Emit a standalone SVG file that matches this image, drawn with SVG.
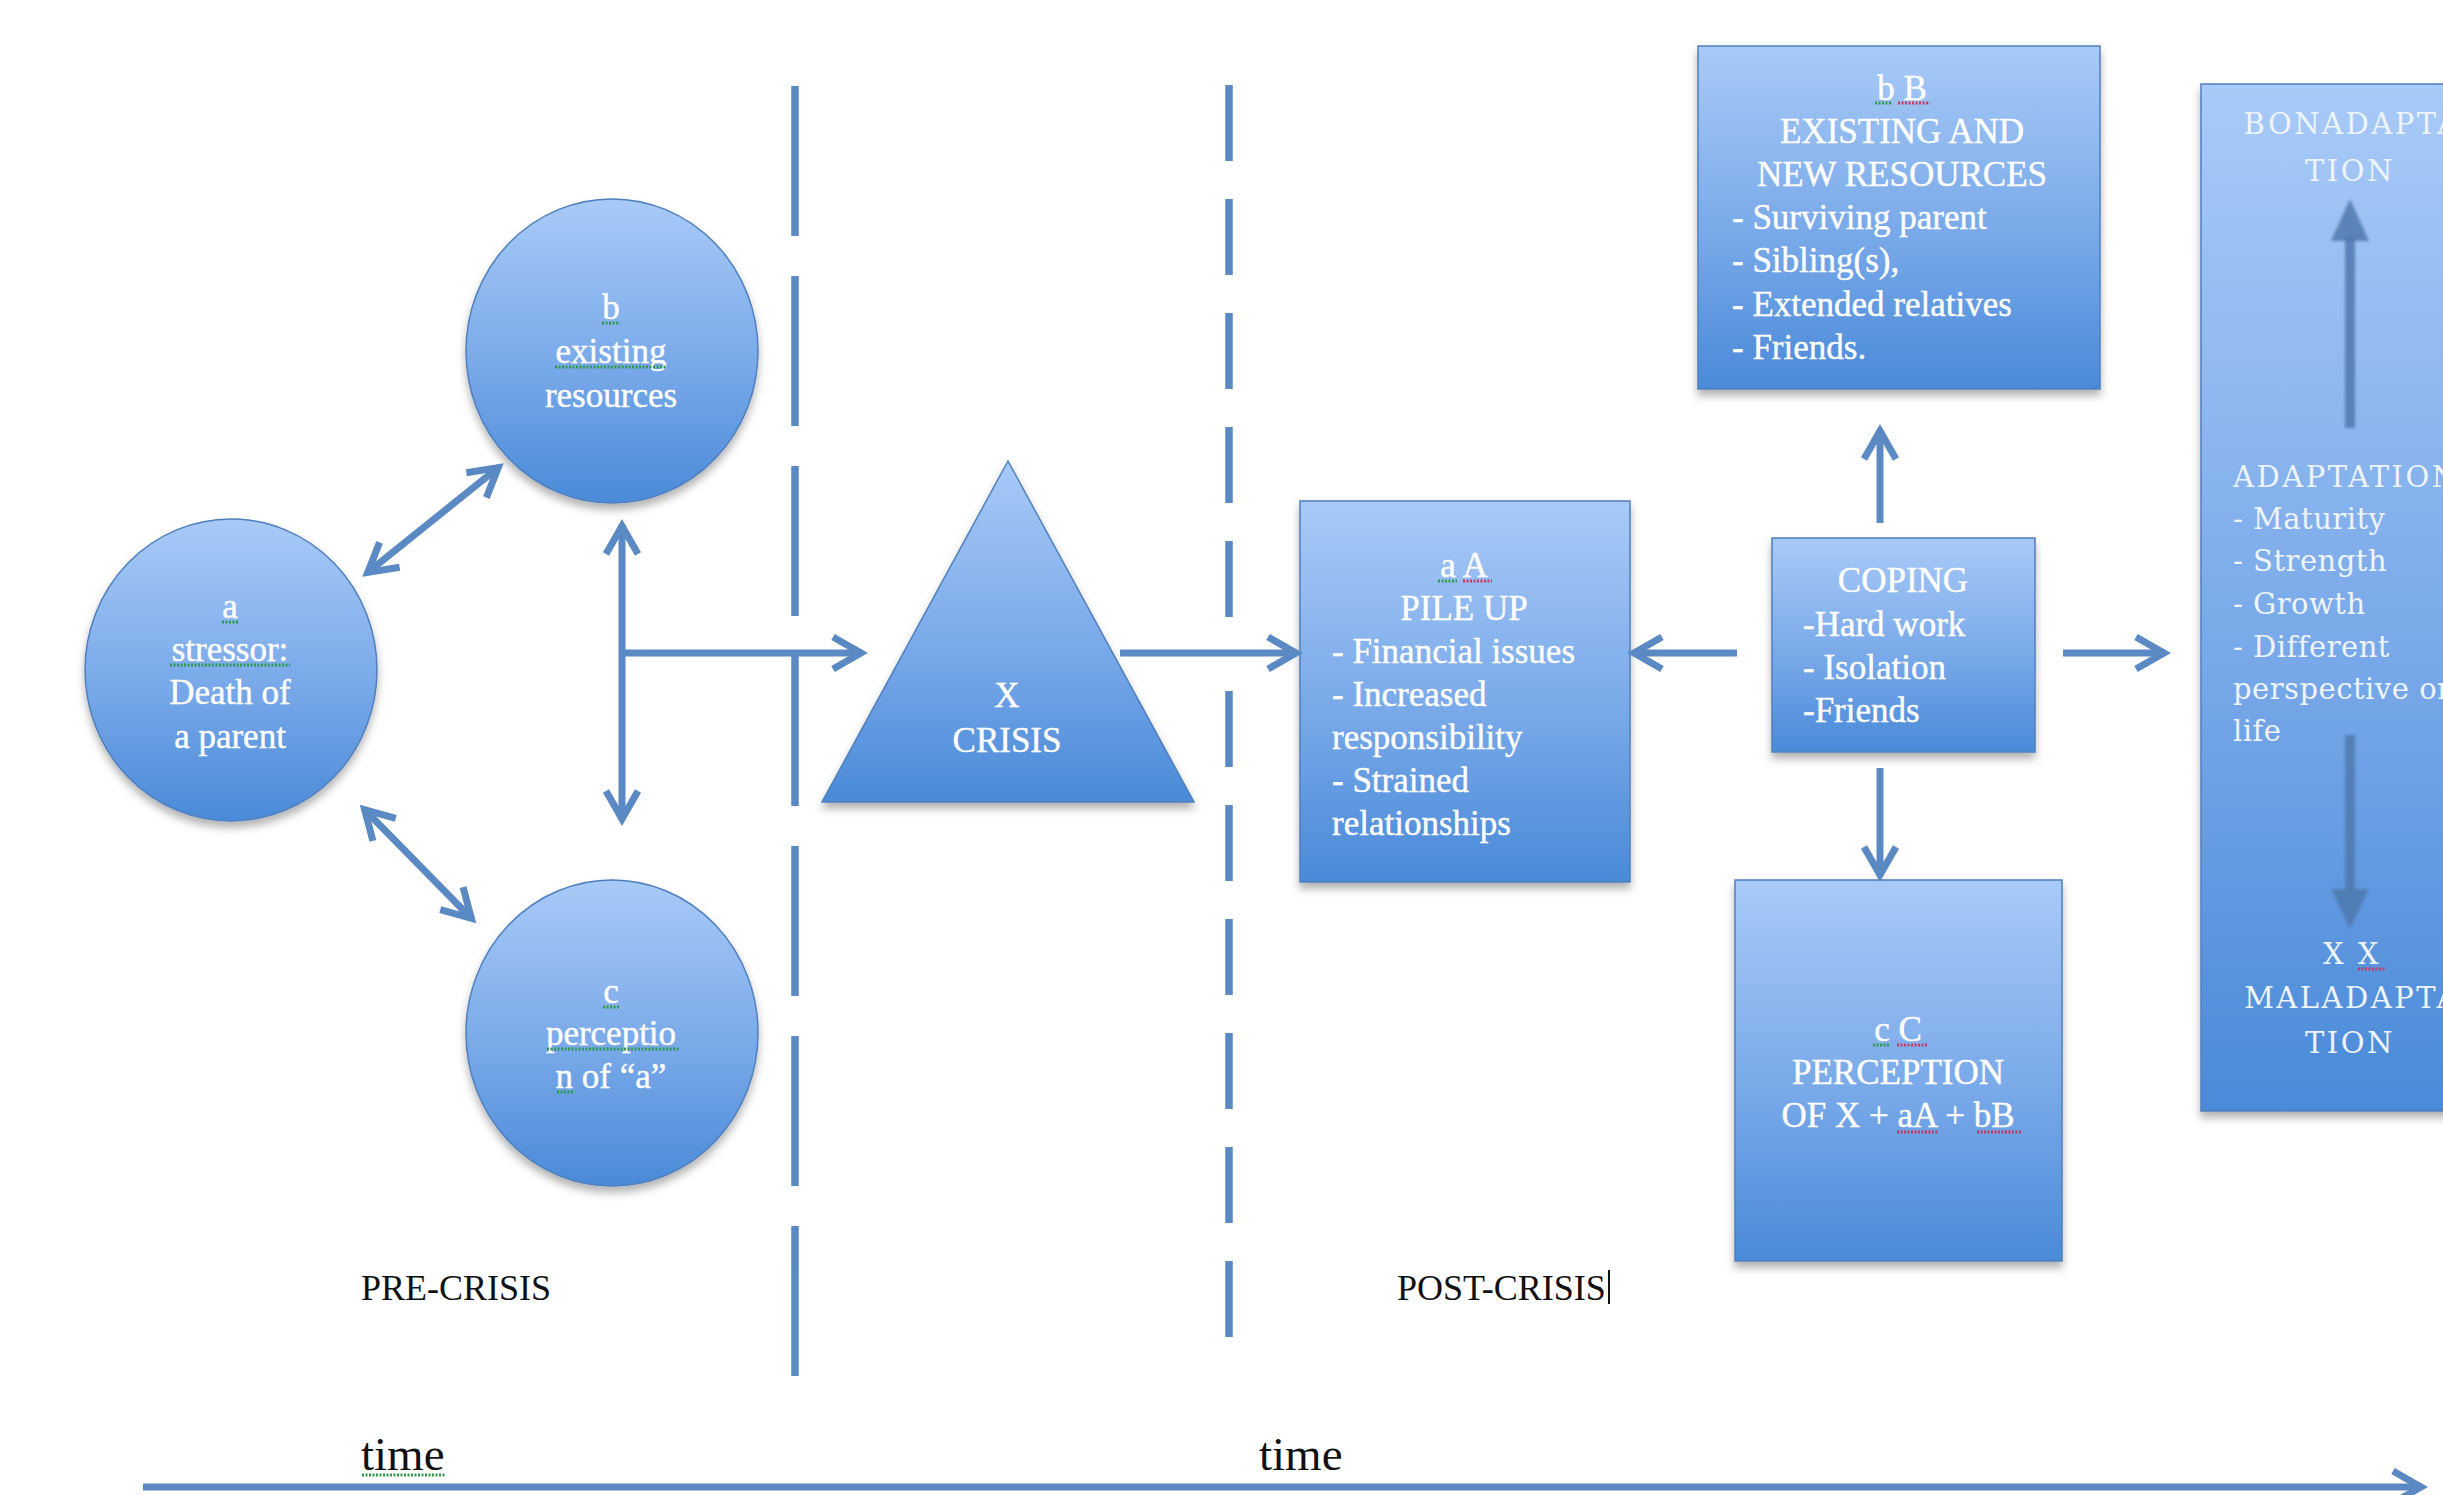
<svg xmlns="http://www.w3.org/2000/svg" width="2443" height="1495" viewBox="0 0 2443 1495">
<defs>
<style>
.t{font-family:"Liberation Serif","Times New Roman",serif;font-size:35px;fill:#ffffff;stroke:#ffffff;stroke-width:0.4px;}
.m{text-anchor:middle;}
.lab{font-family:"Liberation Serif","Times New Roman",serif;font-size:36px;fill:#111111;}
.time{font-family:"Liberation Serif","Times New Roman",serif;font-size:47px;fill:#111111;}
.ad{font-family:"DejaVu Serif","Liberation Serif",serif;font-size:29px;fill:#eef4fc;letter-spacing:0.5px;}
.cap{letter-spacing:2.5px;}
.shape{fill:url(#gBlue);stroke:#4f7fbd;stroke-width:1.5;filter:url(#sh);}
.dash{stroke:#5a89c4;stroke-width:7.5;fill:none;}
.con{stroke:#5a89c4;stroke-width:7;fill:none;marker-end:url(#ah);}
.dbl{marker-start:url(#ah);}
.sqg{stroke:#2f9a4e;stroke-width:3;stroke-dasharray:2 1.5;}
.sqr{stroke:#c83a62;stroke-width:3;stroke-dasharray:2 1.5;}
.inarr{fill:#5079af;opacity:0.85;filter:url(#bl);}
</style>
<linearGradient id="gBlue" x1="0" y1="0" x2="0" y2="1">
<stop offset="0" stop-color="#a8caf7"/>
<stop offset="0.55" stop-color="#79a9e9"/>
<stop offset="1" stop-color="#4a8ad8"/>
</linearGradient>
<filter id="sh" x="-10%" y="-10%" width="125%" height="125%">
<feDropShadow dx="0" dy="6" stdDeviation="4" flood-color="#000000" flood-opacity="0.3"/>
</filter>
<filter id="bl" x="-50%" y="-10%" width="200%" height="120%">
<feGaussianBlur stdDeviation="1.5"/>
</filter>
<marker id="ah" viewBox="-40 -22 46 44" refX="0" refY="0" markerWidth="46" markerHeight="44" markerUnits="userSpaceOnUse" orient="auto-start-reverse">
<path d="M-29,-16 L-1,0 L-29,16" fill="none" stroke="#5a89c4" stroke-width="7" stroke-linejoin="miter"/>
</marker>
</defs>
<rect x="0" y="0" width="2443" height="1495" fill="#ffffff"/>

<g id="dividers">
<line class="dash" x1="795" y1="86" x2="795" y2="1376" stroke-dasharray="150 40"/>
<line class="dash" x1="1229" y1="85" x2="1229" y2="617" stroke-dasharray="76 38"/>
<line class="dash" x1="1229" y1="691" x2="1229" y2="1337" stroke-dasharray="76 38"/>
</g>

<g id="node-a">
<ellipse class="shape" cx="231" cy="670" rx="146" ry="151"/>
<text class="t m" x="230" y="618">a</text>
<text class="t m" x="230" y="661">stressor:</text>
<text class="t m" x="230" y="704">Death of</text>
<text class="t m" x="230" y="748">a parent</text>
<line class="sqg" x1="222" y1="622" x2="239" y2="622"/>
<line class="sqg" x1="170" y1="665" x2="290" y2="665"/>
</g>

<g id="node-b">
<ellipse class="shape" cx="612" cy="351" rx="146" ry="152"/>
<text class="t m" x="611" y="319">b</text>
<text class="t m" x="611" y="363">existing</text>
<text class="t m" x="611" y="407">resources</text>
<line class="sqg" x1="602" y1="323" x2="620" y2="323"/>
<line class="sqg" x1="555" y1="367" x2="667" y2="367"/>
</g>

<g id="node-c">
<ellipse class="shape" cx="612" cy="1033" rx="146" ry="153"/>
<text class="t m" x="611" y="1003">c</text>
<text class="t m" x="611" y="1045">perceptio</text>
<text class="t m" x="611" y="1088">n of &#8220;a&#8221;</text>
<line class="sqg" x1="603" y1="1007" x2="619" y2="1007"/>
<line class="sqg" x1="547" y1="1049" x2="680" y2="1049"/>
<line class="sqg" x1="557" y1="1092" x2="573" y2="1092"/>
</g>

<g id="node-x">
<polygon class="shape" points="1008,461 822,802 1194,802"/>
<text class="t m" x="1007" y="707">X</text>
<text class="t m" x="1007" y="752">CRISIS</text>
</g>

<g id="node-aA">
<rect class="shape" x="1300" y="501" width="330" height="381"/>
<text class="t m" x="1464" y="577">a A</text>
<text class="t m" x="1464" y="620">PILE UP</text>
<text class="t" x="1332" y="663">- Financial issues</text>
<text class="t" x="1332" y="706">- Increased</text>
<text class="t" x="1332" y="749">responsibility</text>
<text class="t" x="1332" y="792">- Strained</text>
<text class="t" x="1332" y="835">relationships</text>
<line class="sqg" x1="1438" y1="581" x2="1457" y2="581"/>
<line class="sqr" x1="1463" y1="581" x2="1492" y2="581"/>
</g>

<g id="node-bB">
<rect class="shape" x="1698" y="46" width="402" height="343"/>
<text class="t m" x="1902" y="100">b B</text>
<text class="t m" x="1902" y="143">EXISTING AND</text>
<text class="t m" x="1902" y="186">NEW RESOURCES</text>
<text class="t" x="1732" y="229">- Surviving parent</text>
<text class="t" x="1732" y="272">- Sibling(s),</text>
<text class="t" x="1732" y="316">- Extended relatives</text>
<text class="t" x="1732" y="359">- Friends.</text>
<line class="sqg" x1="1875" y1="103" x2="1891" y2="103"/>
<line class="sqr" x1="1898" y1="103" x2="1930" y2="103"/>
</g>

<g id="node-coping">
<rect class="shape" x="1772" y="538" width="263" height="214"/>
<text class="t m" x="1903" y="592">COPING</text>
<text class="t" x="1803" y="636">-Hard work</text>
<text class="t" x="1803" y="679">- Isolation</text>
<text class="t" x="1803" y="722">-Friends</text>
</g>

<g id="node-cC">
<rect class="shape" x="1735" y="880" width="327" height="381"/>
<text class="t m" x="1898" y="1041">c C</text>
<text class="t m" x="1898" y="1084">PERCEPTION</text>
<text class="t m" x="1898" y="1127">OF X + aA + bB</text>
<line class="sqg" x1="1873" y1="1045" x2="1890" y2="1045"/>
<line class="sqr" x1="1897" y1="1045" x2="1928" y2="1045"/>
<line class="sqr" x1="1897" y1="1132" x2="1938" y2="1132"/>
<line class="sqr" x1="1977" y1="1132" x2="2022" y2="1132"/>
</g>

<g id="node-adaptation">
<rect class="shape" x="2201" y="84" width="330" height="1027"/>
<rect class="inarr" x="2345" y="236" width="10" height="192"/>
<polygon class="inarr" points="2350,199 2331,241 2369,241"/>
<rect class="inarr" x="2345" y="735" width="10" height="157"/>
<polygon class="inarr" points="2331,889 2369,889 2350,929"/>
<text class="ad cap m" x="2352" y="134">BONADAPTA</text>
<text class="ad cap m" x="2350" y="181">TION</text>
<text class="ad cap" x="2233" y="487">ADAPTATION</text>
<text class="ad" x="2233" y="529">- Maturity</text>
<text class="ad" x="2233" y="571">- Strength</text>
<text class="ad" x="2233" y="614">- Growth</text>
<text class="ad" x="2233" y="657">- Different</text>
<text class="ad" x="2233" y="699">perspective on</text>
<text class="ad" x="2233" y="741">life</text>
<text class="ad cap m" x="2352" y="964">X X</text>
<text class="ad cap m" x="2352" y="1008">MALADAPTA</text>
<text class="ad cap m" x="2350" y="1053">TION</text>
<line class="sqr" x1="2358" y1="969" x2="2386" y2="969"/>
</g>

<g id="connectors">
<line class="con dbl" x1="367" y1="573" x2="499" y2="467"/>
<line class="con dbl" x1="364" y1="809" x2="472" y2="919"/>
<line class="con dbl" x1="622" y1="525" x2="622" y2="820"/>
<line class="con" x1="622" y1="653" x2="862" y2="653"/>
<line class="con" x1="1120" y1="653" x2="1297" y2="653"/>
<line class="con" x1="1737" y1="653" x2="1633" y2="653"/>
<line class="con" x1="2063" y1="653" x2="2165" y2="653"/>
<line class="con" x1="1880" y1="523" x2="1880" y2="430"/>
<line class="con" x1="1880" y1="768" x2="1880" y2="876"/>
<line class="con" x1="143" y1="1487" x2="2422" y2="1487"/>
</g>

<g id="labels">
<text class="lab" x="361" y="1300">PRE-CRISIS</text>
<text class="lab" x="1397" y="1300">POST-CRISIS</text>
<line x1="1609" y1="1270" x2="1609" y2="1304" stroke="#111111" stroke-width="2"/>
<text class="time" x="361" y="1470">time</text>
<line class="sqg" x1="362" y1="1475" x2="446" y2="1475"/>
<text class="time" x="1259" y="1470">time</text>
</g>
</svg>
